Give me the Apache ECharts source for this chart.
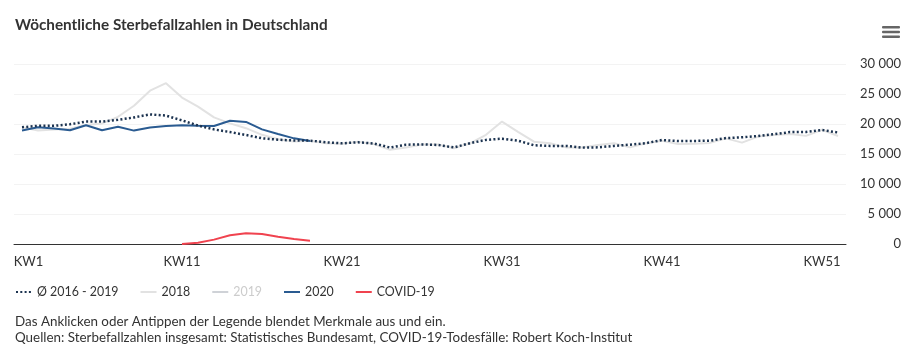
<!DOCTYPE html>
<html>
<head>
<meta charset="utf-8">
<script src="https://cdn.jsdelivr.net/npm/echarts@6/dist/echarts.min.js"></script>
<style>
html,body{margin:0;padding:0;background:#fff;}
#chart{width:923px;height:360px;}
</style>
</head>
<body>
<div id="chart"></div>
<script>
// ---- data ----
const weeks = Array.from({length: 52}, (_, i) => 'KW' + (i + 1));
const yTicks = [0, 5000, 10000, 15000, 20000, 25000, 30000];

const avg2016_2019 = [19450, 19700, 19700, 19950, 20400, 20400, 20700, 21100, 21600, 21400,
  20600, 19750, 19100, 18650, 18170, 17620, 17380, 17250, 17230, 16950,
  16780, 16950, 16750, 16080, 16550, 16600, 16500, 16100, 16800, 17350,
  17560, 17220, 16450, 16350, 16350, 16060, 16110, 16350, 16560, 16800,
  17330, 17150, 17180, 17220, 17650, 17780, 18000, 18300, 18650, 18670,
  19000, 18580];

const values2018 = [19450, 18900, 19100, 19200, 19850, 20100, 21200, 23050, 25550, 26800,
  24400, 22900, 21100, 20100, 19300, 18200, 17450, 17100, 17200, 16800,
  16700, 17060, 16650, 15700, 16100, 16600, 16600, 15950, 16780, 18200,
  20400, 18700, 17050, 16800, 16100, 16100, 16500, 16800, 16100, 16800,
  17200, 16650, 16700, 16850, 17600, 16900, 17900, 18150, 18350, 18020,
  19050, 18000];

const values2019 = []; // series hidden in the reference (legend toggled off)

const values2020 = [18900, 19450, 19250, 18950, 19800, 18950, 19550, 18900, 19400, 19650,
  19800, 19700, 19660, 20530, 20340, 19110, 18340, 17610, 17150];

const covidStartWeek = 11;
const covid19 = [20, 220, 730, 1450, 1780, 1670, 1220, 830, 560];

const covidFull = weeks.map((_, i) => {
  const k = i - (covidStartWeek - 1);
  return (k >= 0 && k < covid19.length) ? covid19[k] : null;
});

const fmt = v => String(v).replace(/\B(?=(\d{3})+(?!\d))/g, ' ');

const chart = echarts.init(document.getElementById('chart'), null, {renderer: 'canvas'});
const FONT = 'Lato, "Noto Sans", sans-serif';

chart.setOption({
  animation: false,
  backgroundColor: '#fff',
  textStyle: {fontFamily: FONT},
  title: {
    text: 'Wöchentliche Sterbefallzahlen in Deutschland',
    left: 15, top: 18, padding: 0,
    textStyle: {fontSize: 15.3, fontWeight: 'bold', color: '#333', fontFamily: FONT}
  },
  grid: {left: 14, right: 77, top: 64, bottom: 116, containLabel: false},
  legend: {
    left: 10, top: 281,
    itemWidth: 16, itemHeight: 10, itemGap: 21,
    itemStyle: {opacity: 0},
    textStyle: {fontSize: 12.4, color: '#333', fontFamily: FONT},
    inactiveColor: '#ccc',
    selected: {'2019': false},
    data: ['Ø 2016 - 2019', '2018', '2019', '2020', 'COVID-19']
  },
  xAxis: {
    type: 'category',
    data: weeks,
    boundaryGap: true,
    axisLine: {lineStyle: {color: '#333', width: 1}},
    axisTick: {alignWithLabel: true, interval: 9, length: 9, lineStyle: {color: '#333'}},
    axisLabel: {
      interval: 9, margin: 11, fontSize: 13, color: '#333', fontFamily: FONT,
      formatter: (v, i) => i === 0 ? '{first|' + v + '}' : v,
      rich: {first: {padding: [0, 0, 0, 13], fontSize: 13, color: '#333', fontFamily: FONT}}
    },
    splitLine: {show: false}
  },
  yAxis: {
    type: 'value',
    position: 'right',
    min: yTicks[0], max: yTicks[yTicks.length - 1], interval: yTicks[1] - yTicks[0],
    axisLine: {show: false},
    axisTick: {show: false},
    axisLabel: {
      align: 'right', margin: 55, fontSize: 13, color: '#333', fontFamily: FONT,
      formatter: v => fmt(v)
    },
    splitLine: {lineStyle: {color: '#f3f3f3', width: 1}}
  },
  series: [
    {
      name: 'Ø 2016 - 2019', type: 'line', data: avg2016_2019, symbol: 'none', z: 5,
      itemStyle: {color: '#1c3350'},
      lineStyle: {color: '#1c3350', width: 2.5, type: [2, 2.3]}
    },
    {
      name: '2018', type: 'line', data: values2018, symbol: 'none', z: 2,
      itemStyle: {color: '#e2e2e2'},
      lineStyle: {color: '#e2e2e2', width: 2}
    },
    {
      name: '2019', type: 'line', data: values2019, symbol: 'none', z: 2,
      itemStyle: {color: '#c0c0c0'},
      lineStyle: {color: '#c0c0c0', width: 2}
    },
    {
      name: '2020', type: 'line', data: values2020, symbol: 'none', z: 4,
      itemStyle: {color: '#2a5b91'},
      lineStyle: {color: '#2a5b91', width: 2}
    },
    {
      name: 'COVID-19', type: 'line', data: covidFull, symbol: 'none', z: 4,
      itemStyle: {color: '#f0434f'},
      lineStyle: {color: '#f0434f', width: 2}
    }
  ],
  graphic: [
    {type: 'rect', left: 882, top: 26, shape: {width: 18, height: 2.6, r: 1}, style: {fill: '#666'}},
    {type: 'rect', left: 882, top: 30.7, shape: {width: 18, height: 2.6, r: 1}, style: {fill: '#666'}},
    {type: 'rect', left: 882, top: 35.4, shape: {width: 18, height: 2.6, r: 1}, style: {fill: '#666'}},
    {type: 'text', left: 15, top: 315, style: {text: 'Das Anklicken oder Antippen der Legende blendet Merkmale aus und ein.', fontSize: 13.4, fill: '#333', fontFamily: FONT}},
    {type: 'text', left: 15, top: 331, style: {text: 'Quellen: Sterbefallzahlen insgesamt: Statistisches Bundesamt, COVID-19-Todesfälle: Robert Koch-Institut', fontSize: 13.4, fill: '#333', fontFamily: FONT}}
  ]
});
</script>
</body>
</html>
